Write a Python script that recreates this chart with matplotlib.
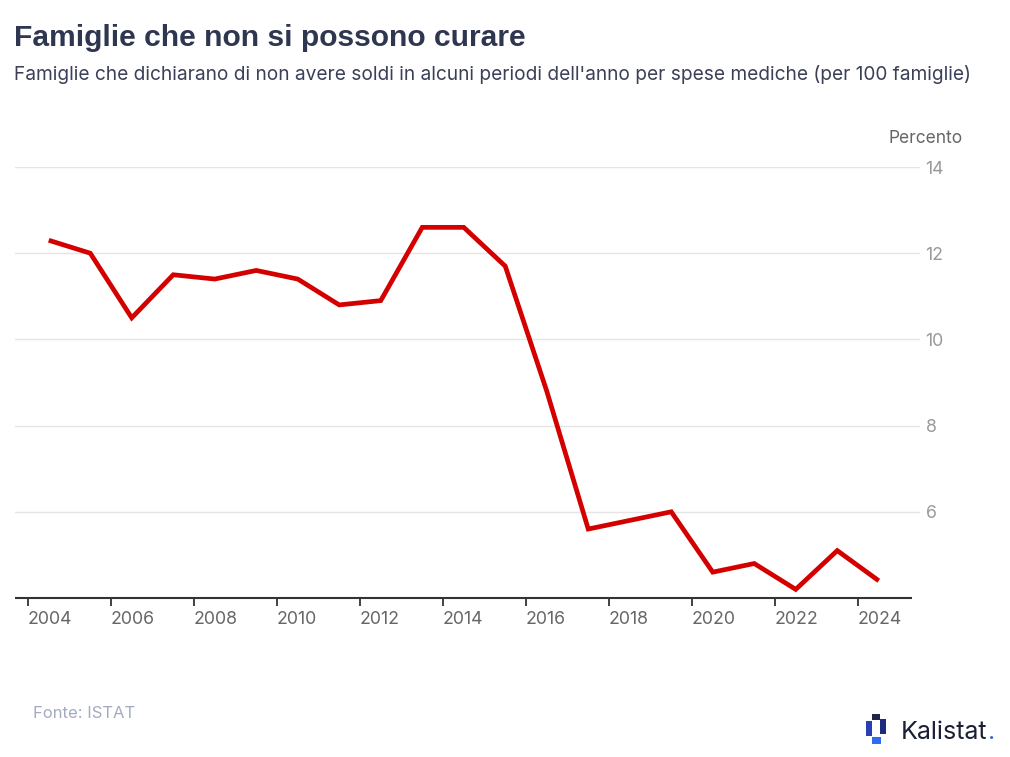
import matplotlib
matplotlib.use("Agg")
import matplotlib.pyplot as plt
from matplotlib.patches import FancyBboxPatch

years = [2004, 2005, 2006, 2007, 2008, 2009, 2010, 2011, 2012, 2013, 2014,
         2015, 2016, 2017, 2018, 2019, 2020, 2021, 2022, 2023, 2024]
values = [12.3, 12.0, 10.5, 11.5, 11.4, 11.6, 11.4, 10.8, 10.9, 12.6, 12.6,
          11.7, 8.8, 5.6, 5.8, 6.0, 4.6, 4.8, 4.2, 5.1, 4.4]
x_ticks = [2004, 2006, 2008, 2010, 2012, 2014, 2016, 2018, 2020, 2022, 2024]
y_ticks = [6, 8, 10, 12, 14]

title = "Famiglie che non si possono curare"
subtitle = ("Famiglie che dichiarano di non avere soldi in alcuni periodi "
            "dell'anno per spese mediche (per 100 famiglie)")
source = "Fonte: ISTAT"
unit = "Percento"

W, H = 1010, 757
fig = plt.figure(figsize=(W / 100, H / 100), dpi=100)
fig.patch.set_facecolor("white")

# axes: x 15..920 px, y 167..598 px
ax = fig.add_axes([15 / W, (H - 598) / H, 905 / W, 431 / H])
ax.set_facecolor("white")
xl, xr = 2003.687, 2025.494
ax.set_xlim(xl, xr)
ax.set_ylim(4, 14)

for s in ax.spines.values():
    s.set_visible(False)

for yv in y_ticks:
    ax.axhline(yv, color="#e5e5e8", lw=1.0, zorder=1)
# baseline
ax.plot([xl, 2025.3], [4, 4], color="#333333", lw=1.5, zorder=2,
        solid_capstyle="butt", clip_on=False)

xs = [y + 0.5 for y in years]
ax.plot(xs, values, color="#d40000", lw=3.4, zorder=3,
        solid_joinstyle="miter", solid_capstyle="butt")

ax.set_xticks(x_ticks)
ax.set_xticklabels([str(t) for t in x_ticks])
ax.tick_params(axis="x", length=6, width=1.3, color="#333333",
               labelsize=12.8, labelcolor="#666666", pad=3)
for lab in ax.get_xticklabels():
    lab.set_horizontalalignment("left")
    lab.set_fontfamily(["Inter", "DejaVu Sans"])

ax.yaxis.tick_right()
ax.set_yticks(y_ticks)
ax.set_yticklabels([str(t) for t in y_ticks])
ax.tick_params(axis="y", length=0, labelsize=12.8, labelcolor="#999999", pad=4)
for lab in ax.get_yticklabels():
    lab.set_fontfamily(["Inter", "DejaVu Sans"])

# texts
fig.text(14 / W, 1 - 46 / H, title, fontsize=21.6, fontweight="bold",
         color="#2f3650", family=["Liberation Sans", "DejaVu Sans"])
fig.text(14 / W, 1 - 80 / H, subtitle, fontsize=13.75, color="#3b4058",
         family=["Inter", "DejaVu Sans"])
fig.text(963 / W, 1 - 143 / H, unit, fontsize=12.5, color="#666666",
         ha="right", family=["Inter", "DejaVu Sans"])
fig.text(33 / W, 1 - 718 / H, source, fontsize=12, color="#a3abc2",
         family=["Inter", "DejaVu Sans"])

# logo
def px_rect(x0, y0, x1, y1, color):
    p = FancyBboxPatch((x0 / W, 1 - y1 / H), (x1 - x0) / W, (y1 - y0) / H,
                       boxstyle="square,pad=0",
                       transform=fig.transFigure, facecolor=color,
                       edgecolor="none")
    fig.patches.append(p)

px_rect(872, 714, 880, 720, "#20264a")
px_rect(866, 721, 872, 736, "#2a3fb5")
px_rect(880, 719, 886, 734, "#1c2a80")
px_rect(872, 737, 881, 744, "#2f6cf0")

t = fig.text(901 / W, 1 - 739 / H, "Kalistat", fontsize=18, color="#1a1f36",
             family=["Inter", "DejaVu Sans"])
fig.canvas.draw()
bb = t.get_window_extent()
fig.text(bb.x1 / W + 1 / W, 1 - 739 / H, ".", fontsize=18, color="#2f5bea",
         family=["Inter", "DejaVu Sans"])

fig.savefig("out.png", dpi=100, facecolor="white")
